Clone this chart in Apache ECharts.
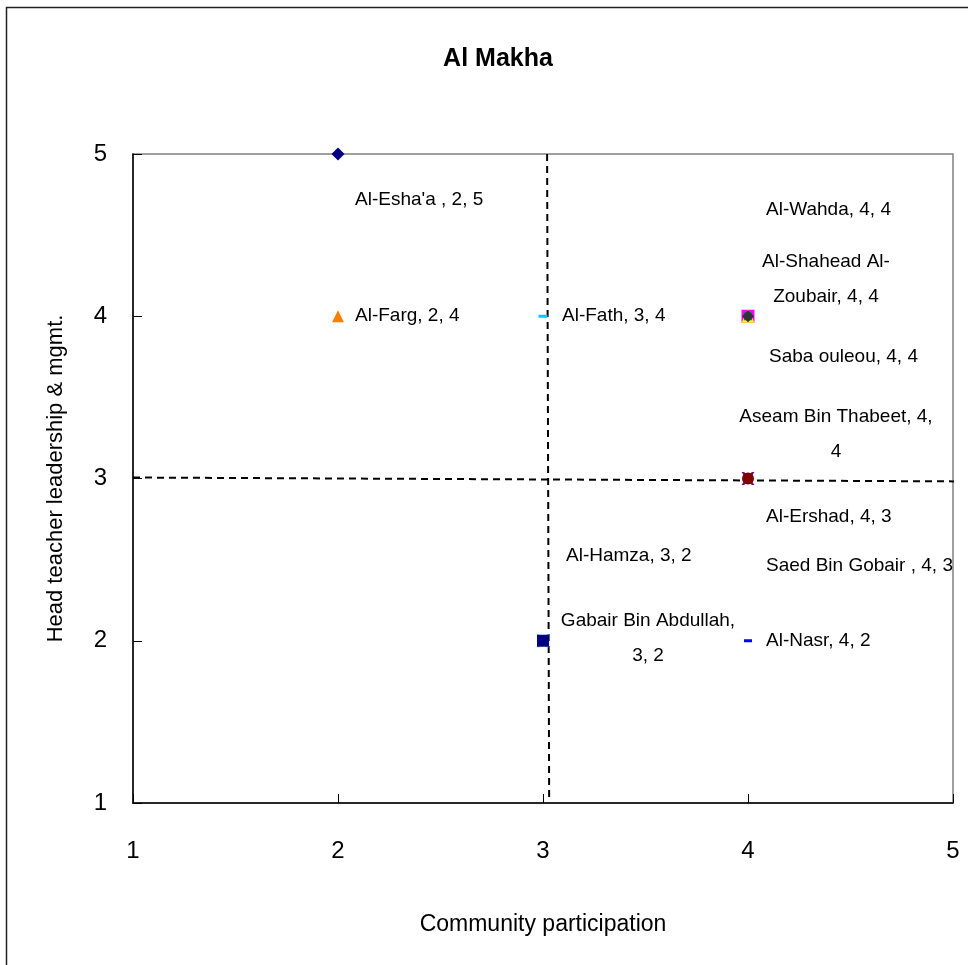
<!DOCTYPE html>
<html>
<head>
<meta charset="utf-8">
<script src="https://cdn.jsdelivr.net/npm/echarts@6/dist/echarts.min.js"></script>
<style>
html, body { margin: 0; padding: 0; background: #fff; }
#chart { width: 968px; height: 965px; }
</style>
</head>
<body>
<div id="chart"></div>
<script>
// Schools of Al Makha district and their scores
const schools = [
  "Al-Esha'a ", "Al-Farg", "Al-Fath", "Al-Wahda", "Al-Shahead Al-Zoubair",
  "Saba ouleou", "Aseam Bin Thabeet", "Al-Ershad", "Saed Bin Gobair ",
  "Al-Hamza", "Gabair Bin Abdullah", "Al-Nasr"
];
const communityScores   = [2, 2, 3, 4, 4, 4, 4, 4, 4, 3, 3, 4];
const leadershipScores  = [5, 4, 4, 4, 4, 4, 4, 3, 3, 2, 2, 2];
const axisTicks = [1, 2, 3, 4, 5];

// Quadrant divider lines (end points in score units)
const dividerVertical   = [[3.02, 5], [3.03, 1.03]];
const dividerHorizontal = [[1, 3.006], [5.035, 2.982]];

const FONT = "'Liberation Sans', Arial, sans-serif";

const X_SHAPE = 'path://M0,0L2,0L5,3L8,0L10,0L6.5,5L10,10L8,10L5,7L2,10L0,10L3.5,5Z';
const DASH = 'path://M0,0H10V1H0Z';

// Marker look per school (same order as schools)
const markerStyles = [
  { symbol: 'diamond',  size: 13,      color: '#000080' },
  { symbol: 'triangle', size: 12,      color: '#FF8000' },
  { symbol: DASH,       size: [9, 3],  color: '#00CCFF' },
  { symbol: 'rect',     size: 13,      color: '#FF00FF' },
  { symbol: 'triangle', size: 13,      color: '#FFFF00' },
  { symbol: 'rect',     size: 8,       color: '#008080' },
  { symbol: 'diamond',  size: 12,      color: '#333333' },
  { symbol: X_SHAPE,    size: 13,      color: '#800080' },
  { symbol: 'circle',   size: 12,      color: '#800000' },
  { symbol: X_SHAPE,    size: 13,      color: '#00FFFF' },
  { symbol: 'rect',     size: 12,      color: '#000080' },
  { symbol: DASH,       size: [8, 3],  color: '#0000FF' }
];

// Label placement relative to each marker centre: [dx, dy], alignment, wrap point
const labelLayout = [
  { dx: 17,  dy: 46,   align: 'left' },
  { dx: 17,  dy: 0,    align: 'left' },
  { dx: 19,  dy: 0,    align: 'left' },
  { dx: 18,  dy: -106, align: 'left' },
  { dx: 78,  dy: -37,  align: 'center', breakAt: 14 },
  { dx: 21,  dy: 41,   align: 'left' },
  { dx: 88,  dy: 118,  align: 'center', breakAt: 21 },
  { dx: 18,  dy: 38,   align: 'left' },
  { dx: 18,  dy: 87,   align: 'left' },
  { dx: 23,  dy: -85,  align: 'left' },
  { dx: 105, dy: -2,   align: 'center', breakAt: 20 },
  { dx: 18,  dy: 0,    align: 'left' }
];

function labelText(i) {
  let t = schools[i] + ', ' + communityScores[i] + ', ' + leadershipScores[i];
  const b = labelLayout[i].breakAt;
  if (b) t = t.slice(0, b).trimEnd() + '\n' + t.slice(b).trimStart();
  return t;
}

const pointSeries = schools.map((name, i) => ({
  type: 'scatter',
  name: name,
  symbol: markerStyles[i].symbol,
  symbolSize: markerStyles[i].size,
  itemStyle: { color: markerStyles[i].color, opacity: 1 },
  z: 3 + i,
  label: {
    show: true,
    position: 'inside',
    offset: [labelLayout[i].dx, labelLayout[i].dy],
    align: labelLayout[i].align,
    verticalAlign: 'middle',
    formatter: () => labelText(i),
    fontFamily: FONT,
    fontSize: 19,
    lineHeight: 35,
    color: '#000'
  },
  data: [[communityScores[i], leadershipScores[i]]]
}));

const dividerStyle = { color: '#000', width: 2, type: [7, 5] };
const dividerSeries = [dividerVertical, dividerHorizontal].map(pts => ({
  type: 'line',
  data: pts,
  symbol: 'none',
  clip: false,
  silent: true,
  z: 2,
  lineStyle: dividerStyle
}));

const axisCommon = {
  type: 'value',
  min: axisTicks[0],
  max: axisTicks[axisTicks.length - 1],
  interval: 1,
  splitLine: { show: false },
  axisLine: { show: true, onZero: false, lineStyle: { color: '#000', width: 1.5 } },
  axisTick: { show: true, inside: true, length: 9, lineStyle: { color: '#000' } },
  nameLocation: 'middle'
};

const chart = echarts.init(document.getElementById('chart'), null, { renderer: 'canvas' });
chart.setOption({
  animation: false,
  backgroundColor: '#fff',
  title: {
    text: 'Al Makha',
    left: 493,
    textAlign: 'center',
    top: 42,
    textStyle: { fontFamily: FONT, fontWeight: 'bold', fontSize: 25, color: '#000' }
  },
  graphic: [{
    type: 'rect',
    shape: { x: 6.5, y: 7.5, width: 1000, height: 1000 },
    style: { fill: 'none', stroke: '#222', lineWidth: 1.5 },
    silent: true
  }],
  grid: {
    left: 133, top: 154, right: 15, bottom: 162,
    show: true, borderColor: '#808080', borderWidth: 1.5, backgroundColor: 'transparent'
  },
  xAxis: Object.assign({}, axisCommon, {
    name: 'Community participation',
    nameGap: 110,
    nameTextStyle: { fontFamily: FONT, fontSize: 23, color: '#000' },
    axisLabel: { fontFamily: FONT, fontSize: 24, color: '#000', margin: 36 }
  }),
  yAxis: Object.assign({}, axisCommon, {
    name: 'Head teacher leadership & mgmt.',
    nameGap: 66,
    nameTextStyle: { fontFamily: FONT, fontSize: 22, color: '#000' },
    axisLabel: { fontFamily: FONT, fontSize: 24, color: '#000', margin: 26 }
  }),
  series: dividerSeries.concat(pointSeries)
});
</script>
</body>
</html>
